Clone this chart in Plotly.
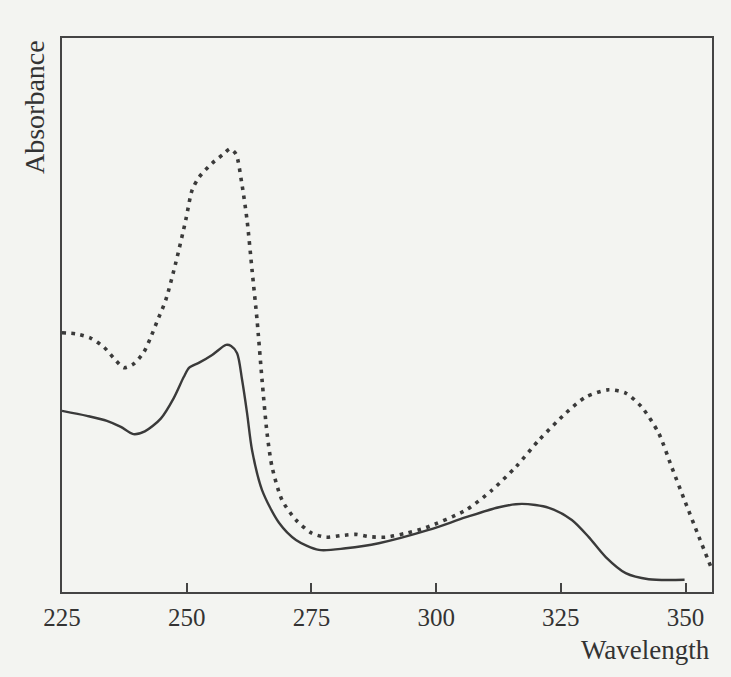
import plotly.graph_objects as go

# Wavelength (nm) and absorbance (arbitrary units)
solid_wl = [225.0, 230.0, 234.0, 236.8, 239.3, 241.6, 244.8, 247.4, 249.4, 250.5,
            252.5, 255.1, 257.9, 258.9, 260.1, 261.1, 262.1, 263.1, 265.1, 268.5,
            271.9, 276.5, 281.9, 288.5, 298.5, 306.0, 312.6, 317.2, 322.6, 327.2,
            330.6, 334.0, 338.0, 342.6, 349.8]
solid_abs = [0.327, 0.318, 0.309, 0.298, 0.285, 0.290, 0.313, 0.350, 0.388, 0.405,
             0.414, 0.428, 0.446, 0.444, 0.431, 0.383, 0.323, 0.256, 0.184, 0.125,
             0.094, 0.076, 0.079, 0.088, 0.112, 0.135, 0.153, 0.159, 0.152, 0.130,
             0.099, 0.063, 0.034, 0.023, 0.022]

dotted_wl = [225.0, 227.8, 230.8, 233.4, 235.4, 237.4, 239.4, 241.4, 242.8, 244.0,
             245.8, 247.8, 249.8, 251.1, 252.5, 255.1, 257.3, 258.7, 259.9, 261.0,
             262.1, 263.1, 264.1, 265.1, 266.1, 267.1, 269.1, 271.9, 275.1, 277.9,
             281.1, 283.9, 286.5, 289.9, 293.9, 297.9, 306.0, 311.2, 316.0, 320.6,
             326.0, 330.0, 334.6, 338.0, 341.2, 344.6, 347.2, 350.0, 352.7, 355.1]
dotted_abs = [0.468, 0.466, 0.458, 0.442, 0.422, 0.405, 0.412, 0.433, 0.460, 0.487,
              0.527, 0.594, 0.671, 0.726, 0.749, 0.774, 0.790, 0.800, 0.790, 0.740,
              0.671, 0.581, 0.491, 0.383, 0.287, 0.226, 0.166, 0.130, 0.106, 0.099,
              0.102, 0.104, 0.100, 0.099, 0.106, 0.116, 0.148, 0.184, 0.226, 0.274,
              0.323, 0.352, 0.365, 0.359, 0.334, 0.287, 0.226, 0.161, 0.099, 0.045]

tick_vals = [225, 250, 275, 300, 325, 350]
tick_text = ["225", "250", "275", "300", "325", "350"]

ink = "#3a3a3a"
paper = "#f3f4f1"
serif = "Liberation Serif, Times New Roman, serif"

fig = go.Figure()
fig.add_trace(go.Scatter(x=dotted_wl, y=dotted_abs, mode="lines",
                         line=dict(color=ink, width=3.6, dash="3.6px,5.6px",
                                   shape="spline", smoothing=0.7),
                         hoverinfo="skip", showlegend=False))
fig.add_trace(go.Scatter(x=solid_wl, y=solid_abs, mode="lines",
                         line=dict(color=ink, width=2.4, shape="spline", smoothing=0.8),
                         hoverinfo="skip", showlegend=False))

fig.update_layout(
    width=731, height=677,
    margin=dict(l=62, r=19, t=38, b=85),
    paper_bgcolor=paper, plot_bgcolor=paper,
    font=dict(family=serif, color=ink),
    xaxis=dict(range=[225, 355.3], showgrid=False, zeroline=False,
               showline=True, mirror=True, linecolor="#444", linewidth=1.8,
               tickmode="array", tickvals=tick_vals, ticktext=tick_text,
               ticks="inside", ticklen=9, tickwidth=1.6, tickcolor="#444",
               tickfont=dict(family=serif, size=25, color="#333"),
               ticklabelstandoff=2),
    yaxis=dict(range=[0, 1.0], showgrid=False, zeroline=False,
               showline=True, mirror=True, linecolor="#444", linewidth=1.8,
               showticklabels=False, ticks=""),
    annotations=[
        dict(text="Absorbance", xref="paper", yref="paper", x=-0.043, y=1.0,
             xanchor="center", yanchor="top", textangle=-90, showarrow=False,
             font=dict(family=serif, size=28, color="#333")),
        dict(text="Wavelength", xref="paper", yref="paper", x=1.0, y=0,
             xanchor="right", yanchor="middle", yshift=-58, showarrow=False,
             font=dict(family=serif, size=27, color="#333")),
    ],
)

fig.write_html("out.html")
